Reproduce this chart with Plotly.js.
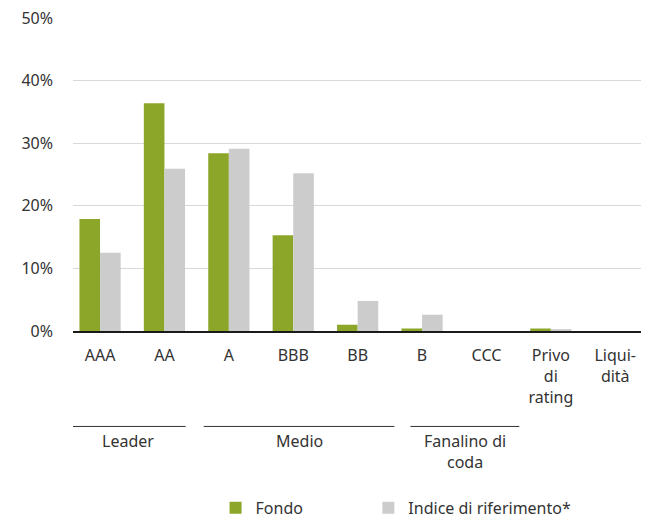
<!DOCTYPE html>
<html>
<head>
<meta charset="utf-8">
<script src="https://cdn.plot.ly/plotly-3.0.1.min.js"></script>
<style>html,body{margin:0;padding:0;background:#fff;}#chart{width:649px;height:521px;}</style>
</head>
<body>
<div id="chart"></div>
<script>
const categories = ["AAA", "AA", "A", "BBB", "BB", "B", "CCC", "Privo<br>di<br>rating", "Liqui-<br>dità"];
const fondo = [17.9, 36.4, 28.4, 15.3, 1.0, 0.4, 0, 0.4, 0];
const indice = [12.5, 25.9, 29.1, 25.2, 4.8, 2.6, 0, 0.3, 0];
const seriesNames = ["Fondo", "Indice di riferimento*"];
const groupLabels = ["Leader", "Medio", "Fanalino di<br>coda"];
const groupSpans = [[-0.47, 1.33], [1.61, 4.57], [4.82, 6.51]];

const font = "'Noto Sans', 'Open Sans', sans-serif";
const fs = 16;
const xIdx = categories.map((c, i) => i);

const traces = [
  {type: "bar", name: seriesNames[0], x: xIdx, y: fondo, marker: {color: "#8ca62a"}, legend: "legend"},
  {type: "bar", name: seriesNames[1], x: xIdx, y: indice, marker: {color: "#cccccc"}, legend: "legend2"}
];

const shapes = groupSpans.map(s => ({
  type: "line", xref: "x", yref: "paper", x0: s[0], x1: s[1], y0: -0.305, y1: -0.305,
  line: {color: "#333333", width: 1}
}));
const annotations = groupLabels.map((t, i) => ({
  xref: "x", yref: "paper", x: (groupSpans[i][0] + groupSpans[i][1]) / 2, y: -0.31,
  yanchor: "top", showarrow: false, text: t, font: {family: font, size: fs, color: "#333333"}
}));

const legendBase = {orientation: "h", xanchor: "left", y: -0.565, yanchor: "middle",
  bgcolor: "rgba(0,0,0,0)", font: {family: font, size: fs, color: "#333333"}};

const layout = {
  width: 649, height: 521,
  margin: {l: 73, r: 8, t: 18, b: 190, autoexpand: false},
  paper_bgcolor: "#fff", plot_bgcolor: "#fff",
  font: {family: font, size: fs, color: "#333333"},
  barmode: "group", bargap: 0.36, bargroupgap: 0,
  showlegend: true,
  legend: Object.assign({}, legendBase, {x: 0.251}),
  legend2: Object.assign({}, legendBase, {x: 0.52}),
  xaxis: {
    tickmode: "array", tickvals: xIdx, ticktext: categories,
    range: [-0.42, 8.4], showgrid: false, zeroline: false,
    showline: true, linecolor: "#1a1a1a", linewidth: 2,
    ticks: "", ticklabelstandoff: 9, tickfont: {family: font, size: fs, color: "#333333"}
  },
  yaxis: {
    range: [0, 50], dtick: 10, ticksuffix: "%", showgrid: true, gridcolor: "#d9d9d9", gridwidth: 1,
    zeroline: false, showline: false, ticks: "", ticklabelstandoff: 19,
    tickfont: {family: font, size: fs, color: "#333333"}
  },
  shapes: shapes,
  annotations: annotations
};

Plotly.newPlot("chart", traces, layout, {displayModeBar: false, staticPlot: true});
</script>
</body>
</html>
